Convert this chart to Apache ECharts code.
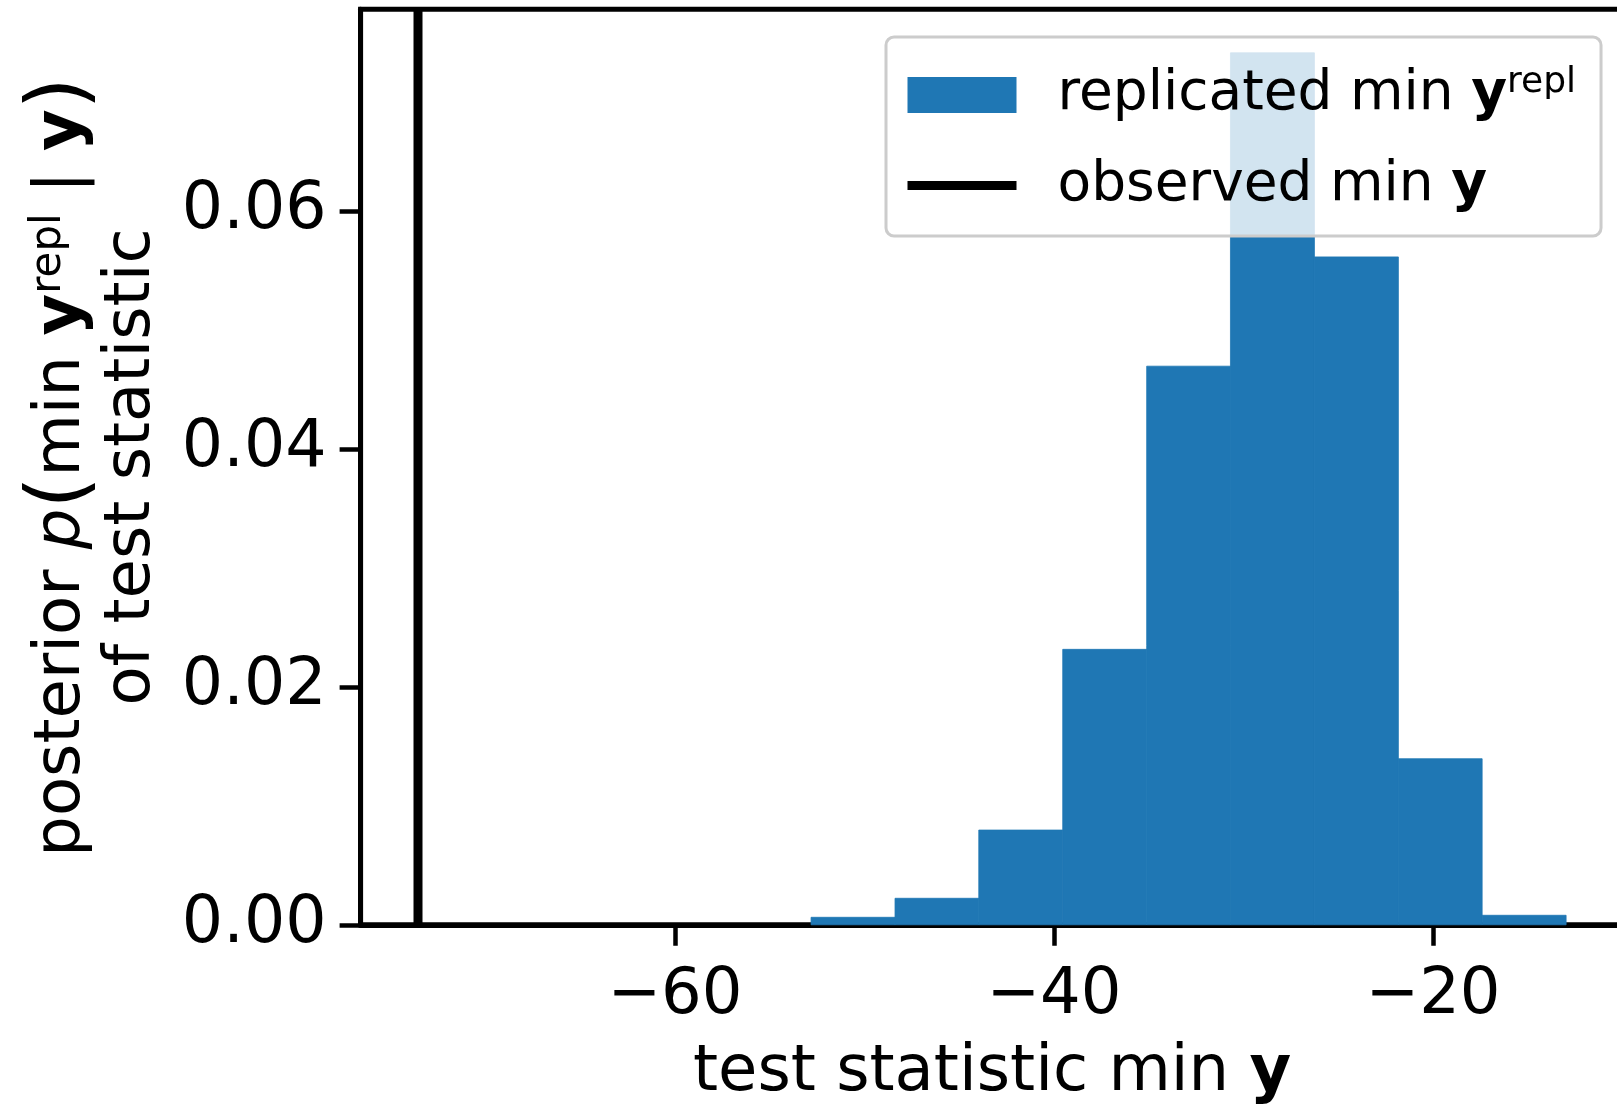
<!DOCTYPE html>
<html><head><meta charset="utf-8">
<script src="https://cdn.jsdelivr.net/npm/echarts@6/dist/echarts.min.js"></script>
<style>html,body{margin:0;padding:0;background:#fff}#chart{width:1617px;height:1106px}</style>
</head><body><div id="chart"></div>
<script>
// ---- data ----
const binEdges = [-52.82, -48.39, -43.97, -39.54, -35.11, -30.69, -26.26, -21.83, -17.41, -12.98];
const density = [0.00063, 0.00223, 0.00797, 0.02317, 0.04699, 0.07335, 0.05618, 0.01397, 0.00080];
const observedMin = -73.56;
const xTicks = [-60, -40, -20];
const yTicks = [0, 0.02, 0.04, 0.06];
const seriesNames = ['replicated', 'observed'];

const FONT = 'DejaVu Sans';
const BLUE = '#1f77b4';

// matplotlib-like autoscale with 5% margins
const xLo = Math.min(observedMin, binEdges[0]);
const xHi = Math.max(observedMin, binEdges[binEdges.length - 1]);
const xMin = xLo - 0.05 * (xHi - xLo);
const xMax = xHi + 0.05 * (xHi - xLo);
const yMax = Math.max.apply(null, density) * 1.05;

const histData = density.map((d, i) => [binEdges[i], binEdges[i + 1], d]);

const chart = echarts.init(document.getElementById('chart'), null, {renderer: 'canvas'});
chart.setOption({
  animation: false,
  backgroundColor: '#fff',
  grid: {
    left: 360.6, top: 9.2, width: 1262.9, height: 915.6,
    show: true, borderColor: '#000', borderWidth: 5, backgroundColor: 'transparent',
    outerBoundsMode: 'none', containLabel: false
  },
  legend: {
    left: 886, top: 37, orient: 'vertical', align: 'left',
    itemWidth: 109, itemHeight: 36, itemGap: 30.5,
    padding: [28, 25, 20.5, 17],
    backgroundColor: 'rgba(255,255,255,0.8)',
    borderColor: '#cccccc', borderWidth: 3, borderRadius: 8,
    selectedMode: false,
    data: [
      {name: seriesNames[0], icon: 'rect'},
      {name: seriesNames[1], itemStyle: {opacity: 0}, lineStyle: {width: 9, color: '#000'}}
    ],
    formatter: function (name) {
      return name === seriesNames[0]
        ? '{g|}replicated min {b|y}{s|repl}'
        : '{g|}observed min {b|y}';
    },
    textStyle: {
      fontFamily: FONT, fontSize: 55, color: '#000', lineHeight: 60,
      rich: {
        g: {width: 36, fontSize: 55, lineHeight: 60},
        b: {fontFamily: FONT, fontWeight: 'bold', fontSize: 55, color: '#000', lineHeight: 60},
        s: {fontFamily: FONT, fontSize: 36, color: '#000', verticalAlign: 'top', lineHeight: 34}
      }
    }
  },
  xAxis: {
    type: 'value', min: xMin, max: xMax,
    splitLine: {show: false},
    axisLine: {show: true, lineStyle: {color: '#000', width: 5}},
    axisTick: {show: true, customValues: xTicks, length: 21, lineStyle: {color: '#000', width: 4.5}},
    axisLabel: {
      customValues: xTicks, margin: 40, fontFamily: FONT, fontSize: 64, color: '#000', lineHeight: 64,
      formatter: v => (v < 0 ? '\u2212' + Math.abs(v) : String(v))
    },
    name: 'test statistic min {b|y}',
    nameLocation: 'middle', nameGap: 117,
    nameTextStyle: {
      fontFamily: FONT, fontSize: 64, color: '#000', lineHeight: 64,
      rich: {b: {fontFamily: FONT, fontSize: 64, fontWeight: 'bold', color: '#000', lineHeight: 64}}
    }
  },
  yAxis: {
    type: 'value', min: 0, max: yMax,
    splitLine: {show: false},
    axisLine: {show: true, lineStyle: {color: '#000', width: 5}},
    axisTick: {show: true, customValues: yTicks, length: 21, lineStyle: {color: '#000', width: 4.5}},
    axisLabel: {
      customValues: yTicks, margin: 34, fontFamily: FONT, fontSize: 65, color: '#000',
      formatter: v => v.toFixed(2)
    },
    name: 'posterior {i|p}{par|(}min {b|y}{s|repl} | {b|y}{par|)}\nof test statistic',
    nameLocation: 'middle', nameGap: 193,
    nameTextStyle: {
      fontFamily: FONT, fontSize: 64, color: '#000', lineHeight: 70, align: 'center',
      rich: {
        i: {fontFamily: FONT, fontSize: 64, fontStyle: 'italic', color: '#000', lineHeight: 70},
        b: {fontFamily: FONT, fontSize: 64, fontWeight: 'bold', color: '#000', lineHeight: 70},
        s: {fontFamily: FONT, fontSize: 42, color: '#000', verticalAlign: 'top', lineHeight: 44},
        par: {fontFamily: FONT, fontSize: 82, color: '#000', lineHeight: 70}
      }
    }
  },
  series: [
    {
      name: seriesNames[0],
      type: 'custom',
      data: histData,
      encode: {x: [0, 1], y: 2},
      itemStyle: {color: BLUE},
      z: 2,
      renderItem: function (params, api) {
        const p0 = api.coord([api.value(0), api.value(2)]);
        const p1 = api.coord([api.value(1), 0]);
        return {
          type: 'rect',
          shape: {x: p0[0], y: p0[1], width: p1[0] - p0[0], height: p1[1] - p0[1]},
          style: {fill: BLUE, stroke: BLUE, lineWidth: 0.8}
        };
      }
    },
    {
      name: seriesNames[1],
      type: 'line',
      data: [[observedMin, 0], [observedMin, yMax]],
      symbol: 'none',
      lineStyle: {color: '#000', width: 9, cap: 'butt'},
      itemStyle: {color: '#000'},
      z: 3
    }
  ]
});
</script>
</body></html>
